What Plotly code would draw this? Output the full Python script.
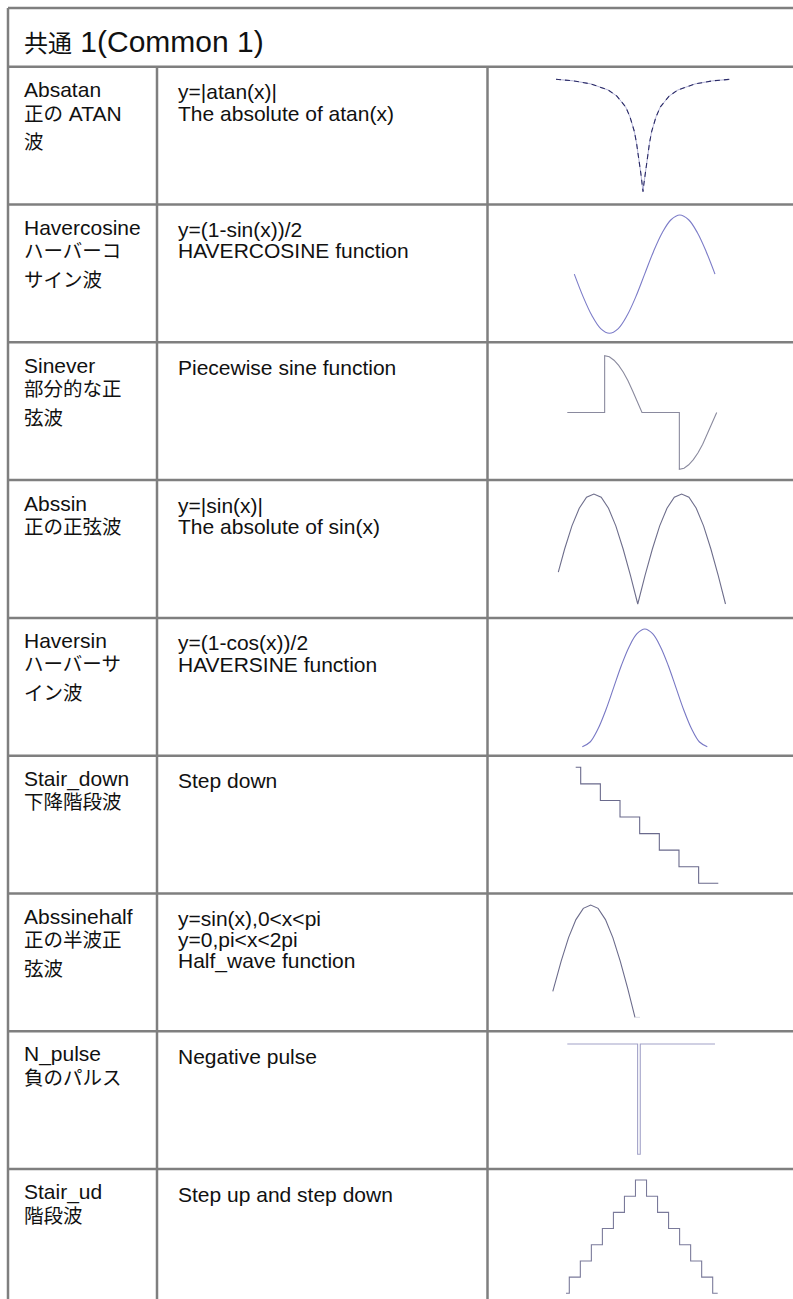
import re
import plotly.graph_objects as go

W, H = 793, 1299

# ---------------- data ----------------
header_text = "共通 1(Common 1)"

row_names = [
    ["Absatan", "正の ATAN", "波"],
    ["Havercosine", "ハーバーコ", "サイン波"],
    ["Sinever", "部分的な正", "弦波"],
    ["Abssin", "正の正弦波"],
    ["Haversin", "ハーバーサ", "イン波"],
    ["Stair_down", "下降階段波"],
    ["Abssinehalf", "正の半波正", "弦波"],
    ["N_pulse", "負のパルス"],
    ["Stair_ud", "階段波"],
]
row_descs = [
    ["y=|atan(x)|", "The absolute of atan(x)"],
    ["y=(1-sin(x))/2", "HAVERCOSINE function"],
    ["Piecewise sine function"],
    ["y=|sin(x)|", "The absolute of sin(x)"],
    ["y=(1-cos(x))/2", "HAVERSINE function"],
    ["Step down"],
    ["y=sin(x),0&lt;x&lt;pi", "y=0,pi&lt;x&lt;2pi", "Half_wave function"],
    ["Negative pulse"],
    ["Step up and step down"],
]

# waveform thumbnails
atan_x = [-10, -8, -6, -4, -3, -2, -1.5, -1, -0.75, -0.5, -0.25, -0.1, 0,
          0.1, 0.25, 0.5, 0.75, 1, 1.5, 2, 3, 4, 6, 8, 10]
atan_y = [1.47, 1.45, 1.41, 1.33, 1.25, 1.11, 0.98, 0.79, 0.64, 0.46, 0.24, 0.1, 0,
          0.1, 0.24, 0.46, 0.64, 0.79, 0.98, 1.11, 1.25, 1.33, 1.41, 1.45, 1.47]

havercos_x = [0, 22.5, 45, 67.5, 90, 112.5, 135, 157.5, 180,
              202.5, 225, 247.5, 270, 292.5, 315, 337.5, 360]
havercos_y = [0.5, 0.31, 0.15, 0.04, 0, 0.04, 0.15, 0.31, 0.5,
              0.69, 0.85, 0.96, 1, 0.96, 0.85, 0.69, 0.5]

sinever_x = [0, 1, 1, 1.125, 1.25, 1.375, 1.5, 1.625, 1.75, 1.875, 2,
             3, 3, 3.125, 3.25, 3.375, 3.5, 3.625, 3.75, 3.875, 4]
sinever_y = [0, 0, 1, 0.98, 0.92, 0.83, 0.71, 0.56, 0.38, 0.2, 0,
             0, -1, -0.98, -0.92, -0.83, -0.71, -0.56, -0.38, -0.2, 0]

abssin_x = [17, 30, 45, 60, 75, 90, 105, 120, 135, 150, 165, 180,
            195, 210, 225, 240, 255, 270, 285, 300, 315, 330, 345, 360]
abssin_y = [0.29, 0.5, 0.71, 0.87, 0.97, 1, 0.97, 0.87, 0.71, 0.5, 0.26, 0,
            0.26, 0.5, 0.71, 0.87, 0.97, 1, 0.97, 0.87, 0.71, 0.5, 0.26, 0]

haversin_x = [0, 22.5, 45, 67.5, 90, 112.5, 135, 157.5, 180,
              202.5, 225, 247.5, 270, 292.5, 315, 337.5, 360]
haversin_y = [0, 0.04, 0.15, 0.31, 0.5, 0.69, 0.85, 0.96, 1,
              0.96, 0.85, 0.69, 0.5, 0.31, 0.15, 0.04, 0]

stairdown_x = [0.25, 1, 2, 3, 4, 5, 6, 7, 8]
stairdown_y = [7, 6, 5, 4, 3, 2, 1, 0, 0]

halfwave_x = [13, 30, 45, 60, 75, 90, 105, 120, 135, 150, 165, 180]
halfwave_y = [0.23, 0.5, 0.71, 0.87, 0.97, 1, 0.97, 0.87, 0.71, 0.5, 0.26, 0]
halfwave_rest_x = [180, 365]
halfwave_rest_y = [0, 0]

npulse_x = [0, 47.6, 47.6, 49.4, 49.4, 100]
npulse_y = [0, 0, -1, -1, 0, 0]

stairud_x = [-0.3, 0, 1, 2, 3, 4, 5, 6, 7, 8, 9, 10, 11, 12, 13, 13.6]
stairud_y = [0, 1, 2, 3, 4, 5, 6, 7, 6, 5, 4, 3, 2, 1, 0, 0]

# ---------------- layout constants ----------------
FONT = "Liberation Sans, Arial, Noto Sans CJK JP, sans-serif"
GRID = "#7f7f7f"
LW = 2.5
LEFT, TOP = 8, 8
COL1, COL2 = 157, 487.5
HEADER_BOTTOM = 66.7
ROW_H = 137.8
row_tops = [HEADER_BOTTOM + ROW_H * i for i in range(9)]


def px(x):
    return x / W


def py(y):
    return 1 - y / H


def cjk(s, size):
    return re.sub(r'([\u3000-\u30ff\u4e00-\u9fff\uff00-\uffef]+)',
                  r'<span style="font-size:%spx">\1</span>' % size, s)


fig = go.Figure()
shapes = []


def line(x0, y0, x1, y1):
    shapes.append(dict(type="line", xref="paper", yref="paper",
                       x0=px(x0), y0=py(y0), x1=px(x1), y1=py(y1),
                       line=dict(color=GRID, width=LW), layer="above"))


# grid
line(LEFT, TOP, W + 5, TOP)
line(LEFT, TOP, LEFT, H + 5)
line(LEFT, HEADER_BOTTOM, W + 5, HEADER_BOTTOM)
line(COL1, HEADER_BOTTOM, COL1, H + 5)
line(COL2, HEADER_BOTTOM, COL2, H + 5)
for t in row_tops[1:]:
    line(LEFT, t, W + 5, t)

annotations = []
annotations.append(dict(
    text=cjk(header_text, 24), x=px(22), y=py(41.0), xref="paper", yref="paper",
    xanchor="left", yanchor="middle", showarrow=False,
    font=dict(family=FONT, size=30, color="#111111")))

name_offsets = [23.0, 46.5, 75.5]
desc_offsets = [25.0, 46.3, 67.6]
for i in range(9):
    top = row_tops[i]
    for j, s in enumerate(row_names[i]):
        annotations.append(dict(
            text=cjk(s, 19.5), x=px(22), y=py(top + name_offsets[j]),
            xref="paper", yref="paper", xanchor="left", yanchor="middle",
            showarrow=False, font=dict(family=FONT, size=21, color="#111111")))
    for j, s in enumerate(row_descs[i]):
        annotations.append(dict(
            text=s, x=px(175.5), y=py(top + desc_offsets[j]),
            xref="paper", yref="paper", xanchor="left", yanchor="middle",
            showarrow=False, font=dict(family=FONT, size=21, color="#111111")))

# thumbnails: (data a, data b) -> (pixel a, pixel b)
thumbs = [
    dict(x=(-10, 10, 556, 730), y=(0, 1.47, 191.7, 79.3)),
    dict(x=(0, 360, 574.3, 715), y=(0, 1, 333.3, 215)),
    dict(x=(0, 4, 567.3, 716.7), y=(-1, 1, 469.3, 355.7)),
    dict(x=(0, 360, 550, 725.5), y=(0, 1, 604, 494)),
    dict(x=(0, 360, 582.3, 707.3), y=(0, 1, 746.7, 629)),
    dict(x=(1, 8, 580.7, 718.3), y=(0, 7, 883.3, 767.3)),
    dict(x=(0, 180, 546.4, 635), y=(0, 1, 1017.3, 905)),
    dict(x=(0, 100, 567.3, 715), y=(0, -1, 1044, 1154.3)),
    dict(x=(0, 13, 569.3, 712.7), y=(0, 7, 1293.3, 1180)),
]

traces = [
    [(atan_x, atan_y, "#b4b4d8", "solid", "linear", 1.0),
     (atan_x, atan_y, "#2a2a66", "5px,4px", "linear", 1.1)],
    [(havercos_x, havercos_y, "#7c7cc8", "solid", "spline", 1.1)],
    [(sinever_x, sinever_y, "#8a8a9e", "solid", "linear", 1.1)],
    [(abssin_x, abssin_y, "#6e6e8c", "solid", "linear", 1.1)],
    [(haversin_x, haversin_y, "#7878c4", "solid", "spline", 1.1)],
    [(stairdown_x, stairdown_y, "#6a6a8c", "solid", "hv", 1.1)],
    [(halfwave_x, halfwave_y, "#6c6c8c", "solid", "linear", 1.1),
     (halfwave_rest_x, halfwave_rest_y, "#dadae4", "solid", "linear", 1.0)],
    [(npulse_x, npulse_y, "#a2a2c8", "solid", "linear", 1.1)],
    [(stairud_x, stairud_y, "#7a7a9a", "solid", "hv", 1.1)],
]

PAD = 5
layout_axes = {}
for k, (th, trs) in enumerate(zip(thumbs, traces), start=1):
    xa, xb, pxa, pxb = th["x"]
    ya, yb, pya, pyb = th["y"]
    sx = (pxb - pxa) / (xb - xa)
    sy = (pyb - pya) / (yb - ya)
    pxmin = min(pxa, pxb) - PAD
    pxmax = max(pxa, pxb) + PAD
    pymin = max(0, min(pya, pyb) - PAD)
    pymax = min(H, max(pya, pyb) + PAD)
    xr = [xa + (pxmin - pxa) / sx, xa + (pxmax - pxa) / sx]
    yr = [ya + (pymax - pya) / sy, ya + (pymin - pya) / sy]
    xn = "xaxis" if k == 1 else "xaxis%d" % k
    yn = "yaxis" if k == 1 else "yaxis%d" % k
    layout_axes[xn] = dict(domain=[px(pxmin), px(pxmax)], range=xr, visible=False,
                           fixedrange=True, anchor="y" if k == 1 else "y%d" % k)
    layout_axes[yn] = dict(domain=[py(pymax), py(pymin)], range=yr, visible=False,
                           fixedrange=True, anchor="x" if k == 1 else "x%d" % k)
    for (tx, ty, col, dash, shape, wd) in trs:
        fig.add_trace(go.Scatter(
            x=tx, y=ty, mode="lines",
            line=dict(color=col, width=wd, dash=dash, shape=shape),
            xaxis="x" if k == 1 else "x%d" % k,
            yaxis="y" if k == 1 else "y%d" % k,
            hoverinfo="skip", showlegend=False))

fig.update_layout(
    width=W, height=H, margin=dict(l=0, r=0, t=0, b=0),
    paper_bgcolor="white", plot_bgcolor="rgba(0,0,0,0)",
    shapes=shapes, annotations=annotations, showlegend=False,
    **layout_axes)

fig.write_html(
    "out.html",
    config={"displayModeBar": False},
    post_script="document.body.style.margin='0';document.body.style.padding='0';"
                "document.body.style.overflow='hidden';")
